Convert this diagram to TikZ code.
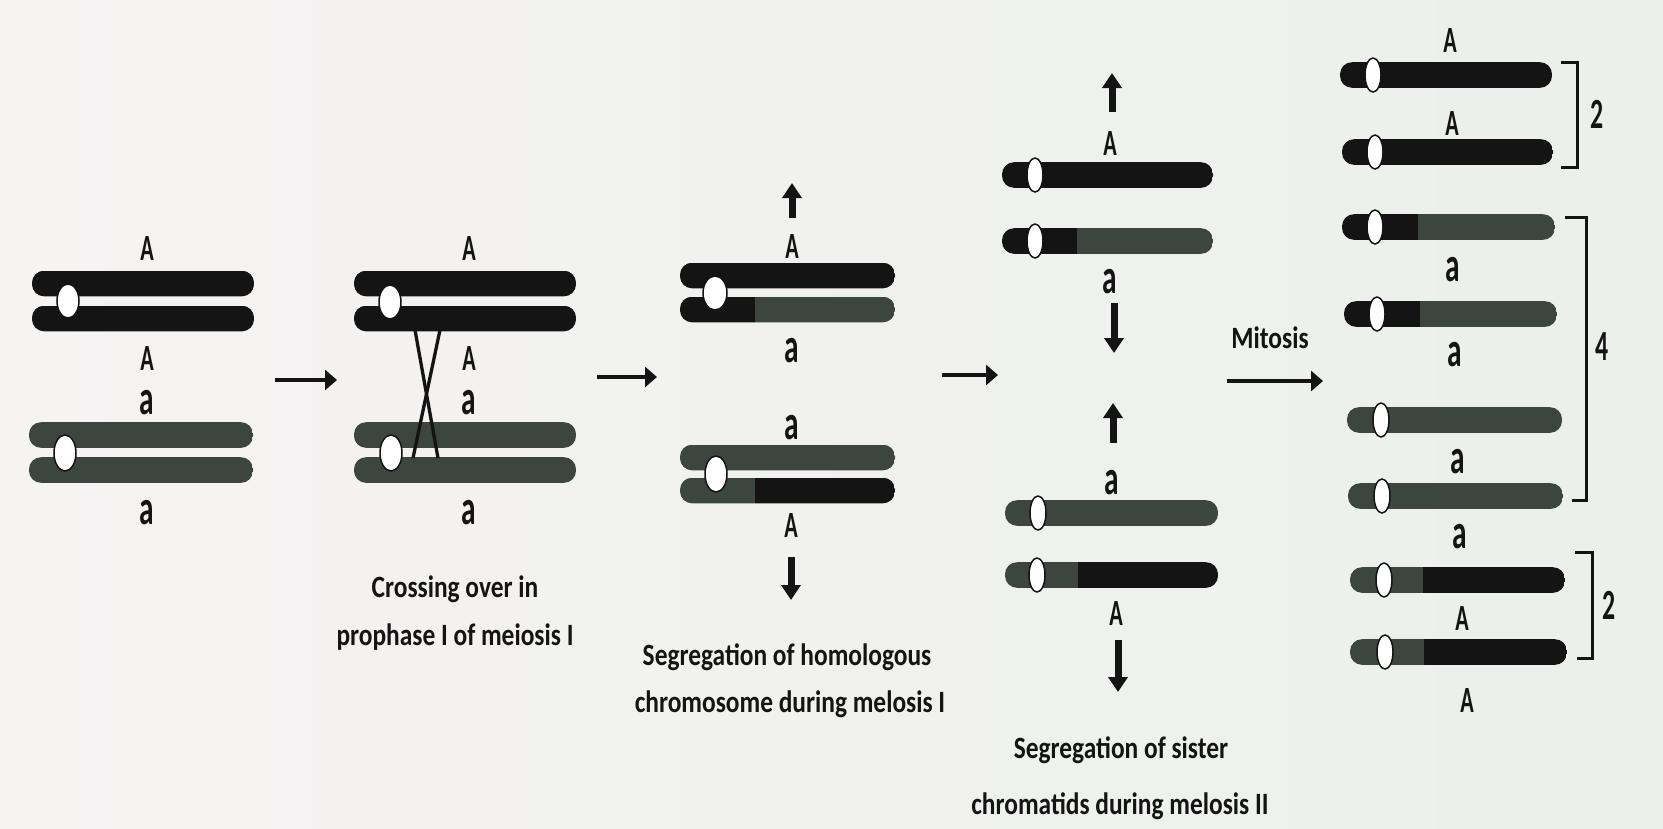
\documentclass[tikz,border=0pt]{standalone}
\usepackage{fontspec}
\setmainfont{Carlito}[FakeStretch=0.82]
\newfontfamily\labfont{Carlito}[FakeStretch=0.6]
\usetikzlibrary{arrows.meta}

\definecolor{ink}{RGB}{20,20,20}
\definecolor{dna}{RGB}{60,70,62}
\definecolor{paperL}{RGB}{246,243,243}
\definecolor{paperR}{RGB}{235,240,235}

% one chromatid: x-start, x-end, y-centre, x where the colour changes, left colour, right colour
\newcommand{\chromatid}[6]{%
  \begin{scope}
    \clip[rounded corners=12pt] (#1,#3-12.8) rectangle (#2,#3+12.8);
    \fill[#5] (#1,#3-13) rectangle (#4,#3+13);
    \fill[#6] (#4,#3-13) rectangle (#2,#3+13);
  \end{scope}}
% centromere: x, y, half width, half height
\newcommand{\centro}[4]{\draw[centromere] (#1,#2) ellipse [x radius=#3pt, y radius=#4pt];}

\tikzset{
  centromere/.style={fill=white, draw=ink, line width=1.5pt},
  upper/.style={font=\labfont\bfseries\fontsize{37}{37}\selectfont, text=ink, inner sep=0pt},
  lower/.style={font=\labfont\bfseries\fontsize{49}{49}\selectfont, text=ink, inner sep=0pt},
  count/.style={font=\labfont\bfseries\fontsize{43}{43}\selectfont, text=ink, inner sep=0pt},
  caption/.style={font=\bfseries\fontsize{31}{31}\selectfont, text=ink, inner sep=0pt, anchor=base},
  flow/.style={ink, line width=3.5pt, -{Triangle[length=12pt,width=20pt]}},
  push/.style={ink, line width=7pt, -{Triangle[length=15pt,width=19pt]}},
  bracket/.style={ink, line width=3pt},
  chiasma/.style={ink, line width=3.3pt}
}

\begin{document}
\begin{tikzpicture}[x=1pt, y=-1pt]
\useasboundingbox (0,0) rectangle (1663,828);
\shade[left color=paperL, right color=paperR] (0,0) rectangle (1663,828);

% ---------- stage 1: homologous pair ----------
\chromatid{32}{254}{283.5}{254}{ink}{ink}
\chromatid{32}{254}{318.5}{254}{ink}{ink}
\centro{68}{301}{11}{17}
\chromatid{29}{253}{435}{253}{dna}{dna}
\chromatid{29}{253}{470}{253}{dna}{dna}
\centro{65}{453}{11}{18}
\node[upper] (s1A1) at (147,248) {A};
\node[upper] (s1A2) at (147,358) {A};
\node[lower] (s1a1) at (147,403) {a};
\node[lower] (s1a2) at (147,513) {a};

% ---------- stage 2: crossing over ----------
\chromatid{354}{576}{283.5}{576}{ink}{ink}
\chromatid{354}{576}{318.5}{576}{ink}{ink}
\centro{390}{302}{11}{17}
\chromatid{354}{576}{435}{576}{dna}{dna}
\chromatid{354}{576}{470}{576}{dna}{dna}
\centro{391}{453}{11}{18}
\coordinate (xa1) at (415,330); \coordinate (xa2) at (438,458);
\coordinate (xb1) at (440,330); \coordinate (xb2) at (413,458);
\draw[chiasma] (xa1) -- (xa2);
\draw[chiasma] (xb1) -- (xb2);
\node[upper] (s2A1) at (469,248) {A};
\node[upper] (s2A2) at (469,358) {A};
\node[lower] (s2a1) at (469,403) {a};
\node[lower] (s2a2) at (469,513) {a};
\node[caption] (cap2a) at (455,597) {Crossing over in};
\node[caption] (cap2b) at (455,645) {prophase I of meiosis I};

% ---------- stage 3: meiosis I ----------
\chromatid{680}{895}{275.5}{895}{ink}{ink}
\chromatid{680}{895}{309.5}{755}{ink}{dna}
\centro{715}{293}{12}{17}
\chromatid{680}{895}{457.5}{895}{dna}{dna}
\chromatid{680}{895}{490.5}{755}{dna}{ink}
\centro{716}{474}{11}{18}
\node[upper] (s3A1) at (792,246) {A};
\node[lower] (s3a1) at (792,351) {a};
\node[lower] (s3a2) at (792,428) {a};
\node[upper] (s3A2) at (791,525) {A};
\coordinate (u3a) at (792,218); \coordinate (u3b) at (792,183);
\coordinate (d3a) at (791,557); \coordinate (d3b) at (791,600);
\draw[push] (u3a) -- (u3b);
\draw[push] (d3a) -- (d3b);
\node[caption] (cap3a) at (787,665) {Segregation of homologous};
\node[caption] (cap3b) at (790,712) {chromosome during melosis I};

% ---------- stage 4: meiosis II ----------
\chromatid{1002}{1213}{175}{1213}{ink}{ink}
\centro{1035}{175}{8}{17}
\chromatid{1002}{1213}{241}{1077}{ink}{dna}
\centro{1035}{241}{8}{17}
\chromatid{1005}{1218}{513}{1218}{dna}{dna}
\centro{1038}{513}{8}{17}
\chromatid{1005}{1218}{575}{1078}{dna}{ink}
\centro{1037}{575}{8}{17}
\node[upper] (s4A1) at (1110,143) {A};
\node[lower] (s4a1) at (1110,282) {a};
\node[lower] (s4a2) at (1112,483) {a};
\node[upper] (s4A2) at (1116,613) {A};
\coordinate (u4a) at (1112,112); \coordinate (u4b) at (1112,73);
\coordinate (d4a) at (1114,303); \coordinate (d4b) at (1114,353);
\coordinate (u5a) at (1113,443); \coordinate (u5b) at (1113,403);
\coordinate (d5a) at (1118,640); \coordinate (d5b) at (1118,692);
\draw[push] (u4a) -- (u4b);
\draw[push] (d4a) -- (d4b);
\draw[push] (u5a) -- (u5b);
\draw[push] (d5a) -- (d5b);
\node[caption] (cap4a) at (1121,758) {Segregation of sister};
\node[caption] (cap4b) at (1120,814) {chromatids during melosis II};

% ---------- stage 5: after mitosis ----------
\chromatid{1340}{1552}{75}{1552}{ink}{ink}
\centro{1373}{75}{8}{17}
\chromatid{1342}{1553}{152}{1553}{ink}{ink}
\centro{1375}{152}{8}{17}
\chromatid{1342}{1555}{227}{1418}{ink}{dna}
\centro{1375}{227}{8}{17}
\chromatid{1344}{1557}{314}{1420}{ink}{dna}
\centro{1377}{314}{8}{17}
\chromatid{1347}{1562}{420}{1562}{dna}{dna}
\centro{1381}{420}{8}{17}
\chromatid{1348}{1563}{496}{1563}{dna}{dna}
\centro{1382}{496}{8}{17}
\chromatid{1350}{1565}{580}{1423}{dna}{ink}
\centro{1384}{580}{8}{17}
\chromatid{1350}{1567}{652}{1424}{dna}{ink}
\centro{1385}{652}{8}{17}
\node[upper] (s5A1) at (1450,41) {A};
\node[upper] (s5A2) at (1452,123) {A};
\node[lower] (s5a1) at (1453,270) {a};
\node[lower] (s5a2) at (1455,355) {a};
\node[lower] (s5a3) at (1458,462) {a};
\node[lower] (s5a4) at (1460,537) {a};
\node[upper] (s5A3) at (1462,618) {A};
\node[upper] (s5A4) at (1467,700) {A};

% brackets with counts
\draw[bracket] (1561,62) -- (1577,62) -- (1577,167) -- (1561,167);
\draw[bracket] (1565,217) -- (1586,217) -- (1586,500) -- (1572,500);
\draw[bracket] (1575,552) -- (1592,552) -- (1592,658) -- (1577,658);
\node[count] (n2a) at (1597,114) {2};
\node[count] (n4) at (1602,347) {4};
\node[count] (n2b) at (1609,605) {2};

% ---------- stage arrows ----------
\coordinate (h1a) at (275,380); \coordinate (h1b) at (337,380);
\coordinate (h2a) at (597,377); \coordinate (h2b) at (657,377);
\coordinate (h3a) at (942,375); \coordinate (h3b) at (998,375);
\coordinate (h4a) at (1227,381); \coordinate (h4b) at (1323,381);
\draw[flow] (h1a) -- (h1b);
\draw[flow] (h2a) -- (h2b);
\draw[flow] (h3a) -- (h3b);
\draw[flow] (h4a) -- (h4b);
\node[caption] (mit) at (1270,348) {Mitosis};
\end{tikzpicture}
\end{document}
